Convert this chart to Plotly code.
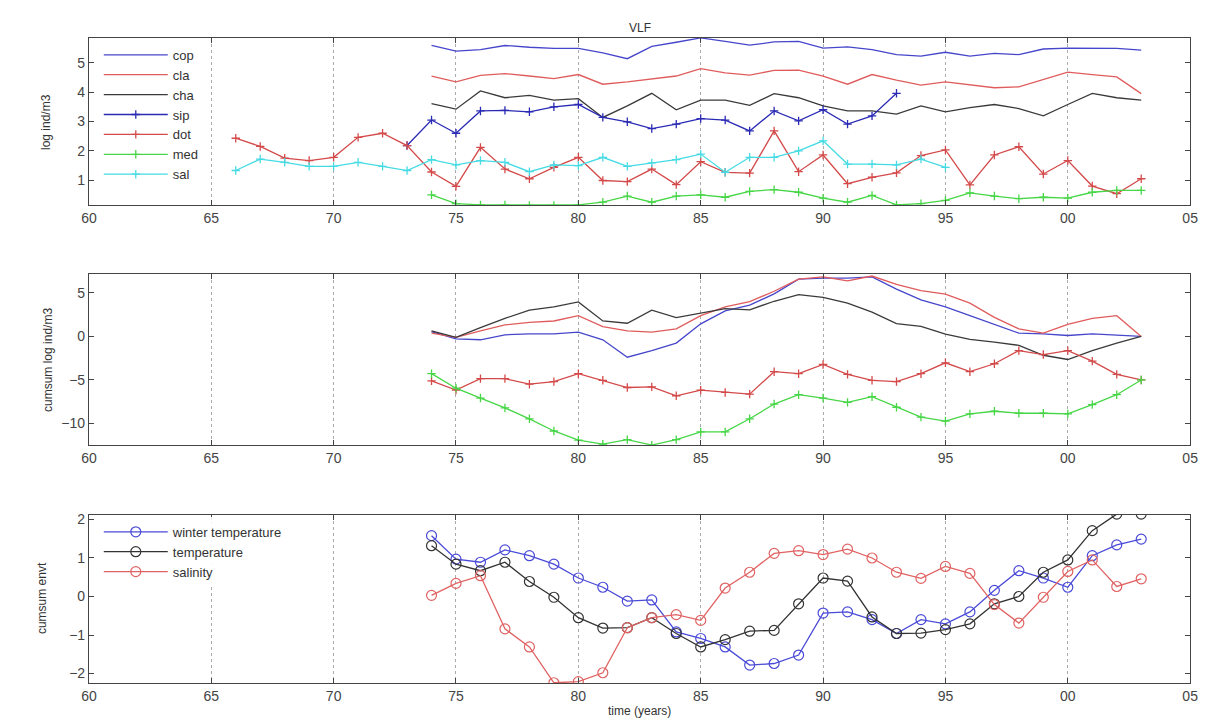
import plotly.graph_objects as go

# ---------------- data ----------------
yrs_main = list(range(74, 104))          # 1974..2003 (as 74..103)
yrs_sip = list(range(73, 94))            # 1973..1993
yrs_long = list(range(66, 104))          # 1966..2003
yrs_sal = list(range(66, 96))            # 1966..1995

cop = [5.59, 5.40, 5.45, 5.59, 5.53, 5.49, 5.49, 5.34, 5.14, 5.56, 5.70, 5.85, 5.73, 5.60, 5.71,
       5.73, 5.50, 5.54, 5.45, 5.28, 5.23, 5.36, 5.23, 5.32, 5.28, 5.47, 5.50, 5.50, 5.49, 5.43]
cla = [4.55, 4.35, 4.57, 4.63, 4.55, 4.46, 4.60, 4.27, 4.35, 4.44, 4.55, 4.80, 4.66, 4.58, 4.74,
       4.75, 4.55, 4.27, 4.60, 4.41, 4.24, 4.35, 4.24, 4.15, 4.18, 4.44, 4.68, 4.60, 4.52, 3.95]
cha = [3.61, 3.42, 4.04, 3.81, 3.89, 3.73, 3.78, 3.14, 3.53, 3.96, 3.40, 3.73, 3.73, 3.55, 3.95,
       3.81, 3.53, 3.36, 3.36, 3.25, 3.53, 3.33, 3.47, 3.58, 3.44, 3.19, 3.58, 3.96, 3.81, 3.73]
sip = [2.18, 3.05, 2.60, 3.36, 3.38, 3.33, 3.50, 3.58, 3.14, 2.99, 2.76, 2.91, 3.10, 3.05, 2.68,
       3.36, 3.02, 3.40, 2.91, 3.19, 3.96]
dot = [2.43, 2.15, 1.75, 1.67, 1.78, 2.46, 2.60, 2.18,
       1.28, 0.79, 2.12, 1.38, 1.05, 1.44, 1.78, 0.99, 0.95, 1.38, 0.85, 1.63, 1.27, 1.24, 2.68,
       1.29, 1.86, 0.88, 1.10, 1.25, 1.84, 2.03, 0.84, 1.86, 2.14, 1.21, 1.67, 0.80, 0.54, 1.05]
med = [0.50, 0.20, 0.16, 0.16, 0.14, 0.14, 0.16, 0.25, 0.46, 0.25, 0.46, 0.50, 0.42, 0.62, 0.68,
       0.59, 0.39, 0.25, 0.48, 0.16, 0.20, 0.31, 0.57, 0.46, 0.37, 0.42, 0.39, 0.59, 0.65, 0.65]
sal = [1.33, 1.72, 1.61, 1.47, 1.47, 1.61, 1.47, 1.33, 1.70, 1.52, 1.67, 1.61, 1.29, 1.52, 1.50,
       1.78, 1.47, 1.59, 1.70, 1.89, 1.27, 1.78, 1.78, 2.00, 2.34, 1.55, 1.55, 1.52, 1.72, 1.44]

cop_cs = [0.57, -0.27, -0.38, 0.19, 0.30, 0.30, 0.49, -0.38, -2.39, -1.63, -0.76, 1.45, 2.95, 3.60, 4.90,
          6.60, 6.70, 6.70, 6.85, 5.45, 4.20, 3.40, 2.40, 1.40, 0.38, 0.30, 0.11, 0.30, 0.19, 0.00]
cla_cs = [0.38, -0.11, 0.64, 1.33, 1.63, 1.78, 2.39, 1.14, 0.64, 0.49, 0.87, 2.40, 3.40, 4.00, 5.20,
          6.60, 6.85, 6.40, 6.95, 6.00, 5.27, 4.88, 3.83, 2.20, 0.87, 0.38, 1.40, 2.08, 2.39, 0.00]
cha_cs = [0.64, -0.11, 1.02, 2.08, 3.03, 3.41, 3.98, 1.78, 1.52, 3.03, 2.16, 2.70, 3.20, 3.07, 4.05,
          4.81, 4.50, 3.83, 2.80, 1.48, 1.17, 0.26, -0.34, -0.64, -1.02, -2.16, -2.65, -1.63, -0.76, 0.00]
dot_cs = [-5.11, -6.17, -4.85, -4.85, -5.49, -5.19, -4.28, -5.04, -5.87, -5.80, -6.82, -6.17, -6.44, -6.63, -4.05,
          -4.28, -3.22, -4.36, -5.04, -5.19, -4.28, -3.03, -4.05, -3.14, -1.63, -2.08, -1.63, -2.84, -4.36, -5.00]
med_cs = [-4.28, -5.95, -7.08, -8.22, -9.47, -10.87, -11.93, -12.39, -11.86, -12.50, -11.86, -10.98, -10.98, -9.47, -7.77,
          -6.70, -7.08, -7.58, -6.93, -8.14, -9.28, -9.73, -8.90, -8.60, -8.83, -8.83, -8.90, -7.84, -6.70, -5.00]

winter_t = [1.58, 0.97, 0.89, 1.21, 1.06, 0.84, 0.48, 0.24, -0.12, -0.09, -0.92, -1.09, -1.31, -1.78, -1.74,
            -1.52, -0.43, -0.40, -0.60, -0.96, -0.60, -0.71, -0.40, 0.16, 0.67, 0.48, 0.24, 1.06, 1.34, 1.49]
temp = [1.32, 0.84, 0.67, 0.89, 0.39, -0.02, -0.55, -0.82, -0.81, -0.55, -0.96, -1.31, -1.12, -0.90, -0.88,
        -0.19, 0.48, 0.40, -0.53, -0.96, -0.95, -0.86, -0.71, -0.19, 0.00, 0.63, 0.95, 1.71, 2.14, 2.14]
salinity = [0.03, 0.34, 0.54, -0.84, -1.31, -2.24, -2.21, -1.98, -0.81, -0.55, -0.47, -0.62, 0.22, 0.63, 1.12,
            1.19, 1.09, 1.23, 1.00, 0.63, 0.47, 0.78, 0.60, -0.21, -0.69, -0.02, 0.65, 0.95, 0.26, 0.46]

x_tickvals = [60, 65, 70, 75, 80, 85, 90, 95, 100, 105]
x_ticktext = ["60", "65", "70", "75", "80", "85", "90", "95", "00", "05"]

# ---------------- styles ----------------
C_COP = "#4646cc"
C_CLA = "#e05c5c"
C_CHA = "#3a3a3a"
C_SIP = "#2a2ab4"
C_DOT = "#d44a4a"
C_MED = "#46d646"
C_SAL = "#46dbe4"
C_WT = "#4a4ad8"
C_T = "#333333"
C_S = "#e06262"

FONT = "Liberation Sans, Arial, sans-serif"
LW = 1.3

fig = go.Figure()


def line(x, y, name, color, xa, ya, legend=None, marker=None, show=True):
    kw = dict(x=x, y=y, name=name, xaxis=xa, yaxis=ya,
              line=dict(color=color, width=LW), showlegend=show)
    if legend:
        kw["legend"] = legend
    if marker == "+":
        kw["mode"] = "lines+markers"
        kw["marker"] = dict(symbol="cross-thin", size=6, line=dict(width=1.3, color=color), color=color)
    elif marker == "o":
        kw["mode"] = "lines+markers"
        kw["marker"] = dict(symbol="circle-open", size=10, line=dict(width=1.2, color=color), color=color)
    else:
        kw["mode"] = "lines"
    fig.add_trace(go.Scatter(**kw))


# top panel
line(yrs_main, cop, "cop", C_COP, "x", "y", "legend")
line(yrs_main, cla, "cla", C_CLA, "x", "y", "legend")
line(yrs_main, cha, "cha", C_CHA, "x", "y", "legend")
line(yrs_sip, sip, "sip", C_SIP, "x", "y", "legend", "+")
line(yrs_long, dot, "dot", C_DOT, "x", "y", "legend", "+")
line(yrs_main, med, "med", C_MED, "x", "y", "legend", "+")
line(yrs_sal, sal, "sal", C_SAL, "x", "y", "legend", "+")

# middle panel
line(yrs_main, cop_cs, "cop", C_COP, "x2", "y2", show=False)
line(yrs_main, cla_cs, "cla", C_CLA, "x2", "y2", show=False)
line(yrs_main, cha_cs, "cha", C_CHA, "x2", "y2", show=False)
line(yrs_main, dot_cs, "dot", C_DOT, "x2", "y2", marker="+", show=False)
line(yrs_main, med_cs, "med", C_MED, "x2", "y2", marker="+", show=False)

# bottom panel
line(yrs_main, winter_t, "winter temperature", C_WT, "x3", "y3", "legend2", "o")
line(yrs_main, temp, "temperature", C_T, "x3", "y3", "legend2", "o")
line(yrs_main, salinity, "salinity", C_S, "x3", "y3", "legend2", "o")

W, H = 1210, 720
XD = [82 / W, 1198 / W]


def ydom(top, bot):
    return [1 - bot / H, 1 - top / H]


axis_common = dict(showline=True, linecolor="#444", linewidth=1, mirror="ticks",
                   ticks="inside", ticklen=5, tickcolor="#444", zeroline=False,
                   tickfont=dict(family=FONT, size=14, color="#444"))

xcommon = dict(axis_common, range=[60, 105], tickvals=x_tickvals, ticktext=x_ticktext,
               showgrid=True, gridcolor="#aaaaaa", griddash="dot", gridwidth=1, domain=XD)

ann_font = dict(family=FONT, size=12, color="#333")


def ann(text, px, py, angle=0):
    return dict(text=text, x=px / W, y=1 - py / H, xref="paper", yref="paper",
                xanchor="center", yanchor="middle", showarrow=False,
                textangle=angle, font=ann_font)


layout = dict(
    width=W, height=H, margin=dict(l=0, r=0, t=0, b=0),
    paper_bgcolor="white", plot_bgcolor="white",
    font=dict(family=FONT, color="#333"),
    xaxis=dict(xcommon, anchor="y"),
    xaxis2=dict(xcommon, anchor="y2"),
    xaxis3=dict(xcommon, anchor="y3"),
    yaxis=dict(axis_common, domain=ydom(35, 203), range=[0.15, 5.85],
               tickvals=[1, 2, 3, 4, 5], showgrid=False, anchor="x"),
    yaxis2=dict(axis_common, domain=ydom(272, 444), range=[-12.5, 7.2],
                tickvals=[-10, -5, 0, 5], showgrid=False, anchor="x2"),
    yaxis3=dict(axis_common, domain=ydom(514, 683), range=[-2.25, 2.12],
                tickvals=[-2, -1, 0, 1, 2], showgrid=False, anchor="x3"),
    legend=dict(x=92 / W, y=1 - 37 / H, xanchor="left", yanchor="top",
                bgcolor="rgba(255,255,255,0.9)", borderwidth=0,
                itemwidth=64, tracegroupgap=0,
                font=dict(family=FONT, size=13, color="#333")),
    legend2=dict(x=92 / W, y=1 - 516 / H, xanchor="left", yanchor="top",
                 bgcolor="rgba(255,255,255,0.9)", borderwidth=0,
                 itemwidth=64, tracegroupgap=0,
                 font=dict(family=FONT, size=13, color="#333")),
    annotations=[
        ann("VLF", 640, 25),
        ann("time (years)", 640, 711),
        ann("log ind/m3", 38, 119, -90),
        ann("cumsum log ind/m3", 40, 358, -90),
        ann("cumsum envt", 34, 598, -90),
    ],
)
fig.update_layout(**layout)

fig.write_html("out.html")
